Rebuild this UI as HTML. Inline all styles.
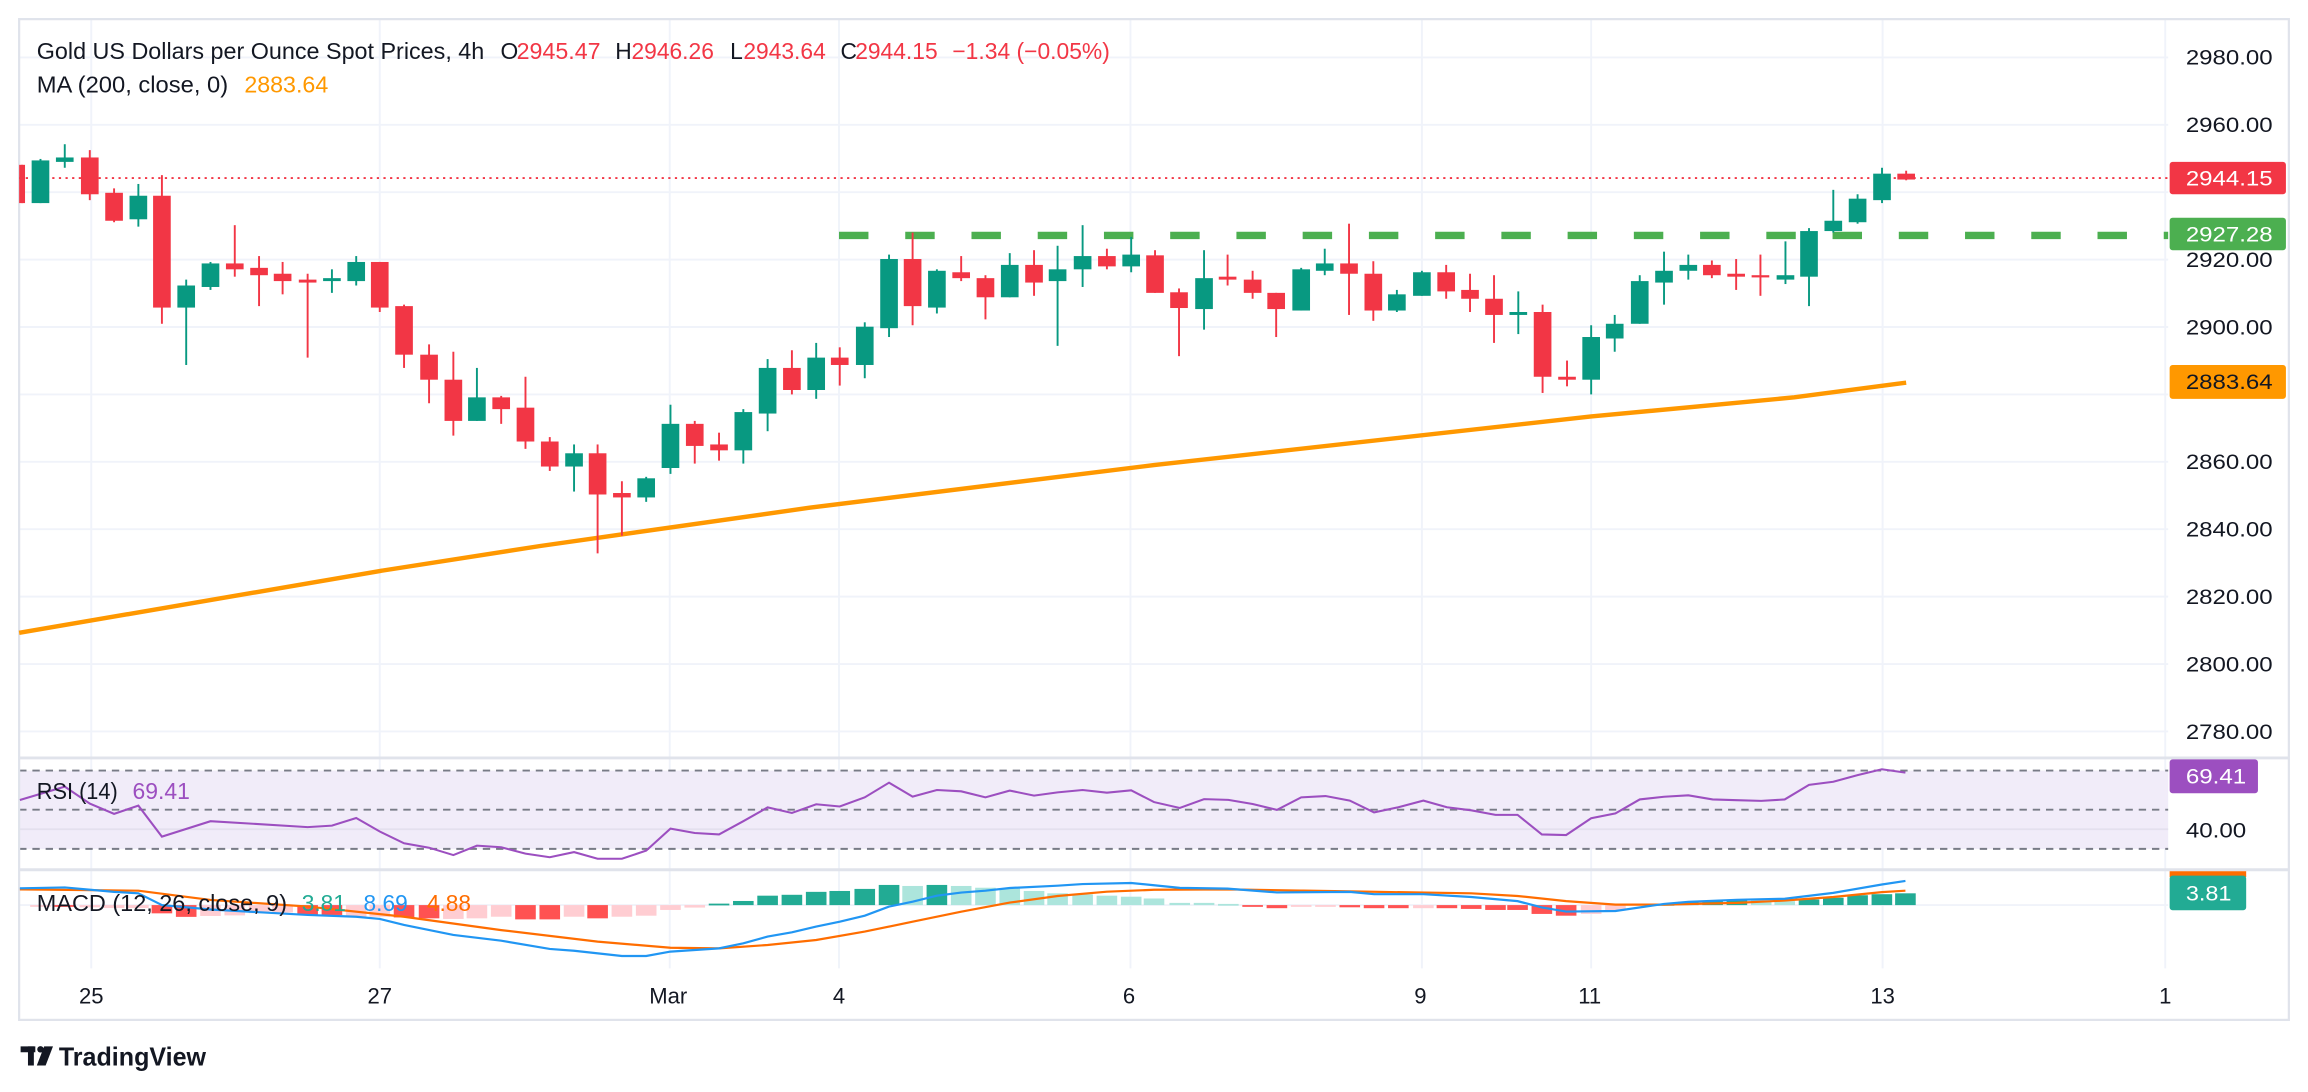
<!DOCTYPE html>
<html><head><meta charset="utf-8"><style>
html,body{margin:0;padding:0;background:#fff;}
svg{display:block;}
text{font-family:"Liberation Sans",sans-serif;}
</style></head><body>
<svg id="s" width="2308" height="1092" viewBox="0 0 1568 742" preserveAspectRatio="none" xmlns="http://www.w3.org/2000/svg">
<rect x="0" y="0" width="1568" height="742" fill="#fff"/>
<g id="grid" stroke="#f0f3fa" stroke-width="1.3"></g>
<!-- RSI background -->
<rect x="13" y="523.6" width="1460" height="53.2" fill="#f1ecf9"/>
<line x1="13" y1="563.5" x2="1473" y2="563.5" stroke="#e4e0ee" stroke-width="1.2"/>
<g stroke="#787b86" stroke-width="1.3" stroke-dasharray="5,4">
<line x1="13" y1="523.6" x2="1473" y2="523.6"/>
<line x1="13" y1="550.2" x2="1473" y2="550.2"/>
<line x1="13" y1="576.8" x2="1473" y2="576.8"/>
</g>
<!-- frame -->
<rect x="13" y="13" width="1542" height="680" fill="none" stroke="#e0e3eb" stroke-width="1.5"/>
<line x1="13" y1="515" x2="1555" y2="515" stroke="#e0e3eb" stroke-width="2"/>
<line x1="13" y1="591" x2="1555" y2="591" stroke="#e0e3eb" stroke-width="2"/>
<!-- MA -->
<polyline fill="none" stroke="#ff9800" stroke-width="3" points="13,430 258,388 367,371 550,345 784,316 1081,283 1219,270 1295,260"/>
<!-- resistance dashed -->
<line x1="570" y1="160" x2="1473" y2="160" stroke="#4caf50" stroke-width="5" stroke-dasharray="20,25"/>
<!-- last price dotted -->
<line x1="13" y1="121" x2="1473" y2="121" stroke="#f23645" stroke-width="1.3" stroke-dasharray="1.5,3"/>
<g id="candles"></g>
<g id="hist"></g>
<polyline fill="none" stroke="#9c4fc0" stroke-width="1.4" points="13.5,543.6 44,534.5 61,546 77.5,553 94,547.4 110,568.5 143,558 209,562 225.5,561 242,555.8 258,565 274.5,573 291.5,576 308,581 324,574.6 340.5,575.7 357,580 373.5,582.5 390,579 406,583.5 422.5,583.5 439,578 455.5,563 472,566 488.5,567 505,558 521.5,548.6 538,552.4 554.5,546.5 570.5,548 587.5,541.8 604,531.8 620,541.3 636.5,536.8 653,537.7 669.5,541.8 686,537.2 702.5,540.6 718.5,538.4 735.5,536.8 752,538.6 768.5,537 784,545 801.5,549 818,543 834.5,543.5 851,546.3 867.5,550.3 884,541.8 900.5,540.9 917,544 933.5,552 950,548.5 967,544 983,548.5 999.5,550.6 1016,553.7 1031,553.7 1047.5,567 1064,567.4 1081,556 1097.5,552.7 1114,543.2 1130.5,541.4 1147,540.4 1163.5,543.2 1180,543.7 1196.5,544.2 1212.5,543.2 1229,533.3 1245.5,531.2 1262,526.7 1278.5,522.7 1294.5,525"/>
<polyline fill="none" stroke="#ff6d00" stroke-width="1.5" points="13.5,604.3 94,605.2 143,611.5 209,616 274.5,622.9 340.5,632 406,639.8 455.5,644 488.5,644.4 521.5,642.1 554.5,638.7 587.5,633 620,626.3 653,619.5 686,613.3 718.5,608.8 752,605.9 784,604.6 834,604.3 917,605.7 999.5,607 1031,608.8 1064,612.3 1097.5,614.7 1130.5,614.7 1180,613.5 1212.5,611.9 1245.5,609.5 1278.5,606.2 1294.5,605.2"/>
<polyline fill="none" stroke="#2196f3" stroke-width="1.5" points="13.5,603.6 44,603 77.5,606 94,607 110,615 143,618 209,621.7 242,622.9 258,624.4 274.5,628.5 308,635.3 340.5,639.2 373.5,644.8 390,646 422.5,649.6 439,649.6 455.5,646.6 488.5,644.4 505,641 521.5,636.4 538,633.5 554.5,629.6 570.5,626.3 587.5,622.2 604,616 620,612.7 636.5,608.6 653,606.5 669.5,605.2 686,603.4 718.5,601.8 735.5,600.7 768.5,600 784,601.5 801.5,603.3 834,603.8 867.5,606.4 917,606 933.5,607.6 967,607.6 999.5,609.5 1031,612.3 1047.5,616.6 1064,619.4 1097.5,619 1130.5,614.2 1147,612.8 1180,611.4 1212.5,610.7 1245.5,606.7 1278.5,601 1294.5,598.6"/>
<!-- header -->
<g font-size="15.5">
<text x="25" y="40" fill="#131722" textLength="304" lengthAdjust="spacingAndGlyphs">Gold US Dollars per Ounce Spot Prices, 4h</text>
<text x="340" y="40" fill="#131722">O</text><text x="351" y="40" fill="#f23645" textLength="57" lengthAdjust="spacingAndGlyphs">2945.47</text>
<text x="418" y="40" fill="#131722">H</text><text x="429" y="40" fill="#f23645" textLength="56" lengthAdjust="spacingAndGlyphs">2946.26</text>
<text x="496" y="40" fill="#131722">L</text><text x="505" y="40" fill="#f23645" textLength="56" lengthAdjust="spacingAndGlyphs">2943.64</text>
<text x="571" y="40" fill="#131722">C</text><text x="581" y="40" fill="#f23645" textLength="56" lengthAdjust="spacingAndGlyphs">2944.15</text>
<text x="647" y="40" fill="#f23645" textLength="107" lengthAdjust="spacingAndGlyphs">−1.34 (−0.05%)</text>
<text x="25" y="63" fill="#131722" textLength="130" lengthAdjust="spacingAndGlyphs">MA (200, close, 0)</text>
<text x="166" y="63" fill="#ff9800" textLength="57" lengthAdjust="spacingAndGlyphs">2883.64</text>
<text x="25" y="543" fill="#131722" textLength="55" lengthAdjust="spacingAndGlyphs">RSI (14)</text>
<text x="90" y="543" fill="#9c4fc0" textLength="39" lengthAdjust="spacingAndGlyphs">69.41</text>
<text x="25" y="619" fill="#131722" textLength="170" lengthAdjust="spacingAndGlyphs">MACD (12, 26, close, 9)</text>
<text x="205" y="619" fill="#22ab94" textLength="30" lengthAdjust="spacingAndGlyphs">3.81</text>
<text x="247" y="619" fill="#2196f3" textLength="30" lengthAdjust="spacingAndGlyphs">8.69</text>
<text x="290" y="619" fill="#ff6d00" textLength="30" lengthAdjust="spacingAndGlyphs">4.88</text>
</g>
<!-- price axis -->
<g id="axis" font-size="14.5" fill="#131722"></g>
<!-- tags -->
<rect x="1474" y="110" width="79" height="22" rx="2" fill="#f23645"/>
<text x="1485" y="126" font-size="14.5" fill="#fff" textLength="59" lengthAdjust="spacingAndGlyphs">2944.15</text>
<rect x="1474" y="148" width="79" height="22" rx="2" fill="#4caf50"/>
<text x="1485" y="164" font-size="14.5" fill="#fff" textLength="59" lengthAdjust="spacingAndGlyphs">2927.28</text>
<rect x="1474" y="248" width="79" height="23" rx="2" fill="#ff9800"/>
<text x="1485" y="264.5" font-size="14.5" fill="#131722" textLength="59" lengthAdjust="spacingAndGlyphs">2883.64</text>
<rect x="1474" y="516" width="60" height="23" rx="2" fill="#9c4fc0"/>
<text x="1485" y="532.5" font-size="14.5" fill="#fff" textLength="41" lengthAdjust="spacingAndGlyphs">69.41</text>
<text x="1485" y="569" font-size="14.5" fill="#131722" textLength="41" lengthAdjust="spacingAndGlyphs">40.00</text>
<rect x="1474" y="592" width="52" height="4" fill="#ff6d00"/>
<rect x="1474" y="595" width="52" height="23.5" rx="2" fill="#22ab94"/>
<text x="1485" y="612" font-size="14.5" fill="#fff" textLength="31" lengthAdjust="spacingAndGlyphs">3.81</text>
<!-- time axis -->
<g font-size="15" fill="#131722" text-anchor="middle">
<text x="62" y="682">25</text><text x="258" y="682">27</text><text x="454" y="682">Mar</text>
<text x="570" y="682">4</text><text x="767" y="682">6</text><text x="965" y="682">9</text>
<text x="1080" y="682">11</text><text x="1279" y="682">13</text><text x="1471" y="682">1</text>
</g>
<!-- logo -->
<g fill="#131722">
<rect x="14" y="711" width="10" height="4"/><rect x="19" y="711" width="4" height="13"/>
<circle cx="27.5" cy="713" r="2.2"/><polygon points="30,711 36,711 31,724 25,724"/>
<text x="40" y="724" font-size="17.5" font-weight="bold" textLength="100" lengthAdjust="spacingAndGlyphs">TradingView</text>
</g>
<script>
(function(){
var NS="http://www.w3.org/2000/svg";
function el(p,t,a){var e=document.createElementNS(NS,t);for(var k in a)e.setAttribute(k,a[k]);p.appendChild(e);return e;}
var g=document.getElementById("grid");
[62,258,455,570,768,966,1081,1279,1471].forEach(function(x){el(g,"line",{x1:x,y1:13,x2:x,y2:658});});
var ax=document.getElementById("axis");
for(var p=2980;p>=2780;p-=20){var y=39+(2980-p)*2.29;el(g,"line",{x1:13,y1:y,x2:1473,y2:y});
 if(p!=2940&&p!=2880){var t=el(ax,"text",{x:1485,y:y+5,textLength:59,lengthAdjust:"spacingAndGlyphs"});t.textContent=p+".00";}}
el(g,"line",{x1:13,y1:615,x2:1473,y2:615});
var C=[[15,112,138,112,138,0],[27.5,109,138,108,138,1],[44,107,110,98,114,1],[61,107,132,102,136,0],[77.5,131,150,128,151,0],[94,133,149,125,154,1],[110,133,209,119,220,0],[126.5,194,209,190,248,1],[143,179,195,178,197,1],[159.5,179,183,153,188,0],[176,182,187,174,208,0],[192,186,191,178,200,0],[209,190,192,186,243,0],[225.5,189,191,183,199,1],[242,178,191,174,194,1],[258,178,209,178,212,0],[274.5,208,241,207,250,0],[291.5,241,258,234,274,0],[308,258,286,239,296,0],[324,270,286,250,286,1],[340.5,270,278,269,288,0],[357,277,300,256,305,0],[373.5,300,317,297,320,0],[390,308,317,302,334,1],[406,308,336,302,376,0],[422.5,335,338,327,364,0],[439,325,338,324,341,1],[455.5,288,318,275,322,1],[472,288,303,286,315,0],[488.5,302,306,294,313,0],[505,280,306,278,315,1],[521.5,250,281,244,293,1],[538,250,265,238,268,0],[554.5,243,265,233,271,1],[570.5,243,248,236,262,0],[587.5,222,248,219,257,1],[604,176,223,173,229,1],[620,176,208,158,221,0],[636.5,184,209,183,213,1],[653,185,189,174,191,0],[669.5,189,202,187,217,0],[686,180,202,172,202,1],[702.5,180,192,170,201,0],[718.5,183,191,167,235,1],[735.5,174,183,153,195,1],[752,174,181,169,183,0],[768.5,173,181,161,185,1],[784.7,173.5,199,170,199,0],[801,198.6,209.3,196,242,0],[818,189,210,170,224,1],[834,188,190,173,194,0],[851,190,199,184,203,0],[867,199,210,199,229,0],[884,183,211,182,211,1],[900,179,184,169,187,1],[916.5,179,186,152,214,0],[933,186,211,177.5,218,0],[949,200,211,197,212,1],[966,185,201,184,201,1],[982.5,185,198,180,203,0],[998.7,197,203,186,212,0],[1015,203,214,187,233,0],[1031.5,212,214,198,227,1],[1048,212,256,207,267,0],[1064.6,256,258,245,262.5,0],[1081,229,258,221,268,1],[1097,220,230,214,239,1],[1114,191,220,187,220,1],[1130.5,184,192,171,207,1],[1147,180,184,173,190,1],[1163,180,187,177,189,0],[1179.5,186,188,176,197,0],[1196,187,188.5,173,201,0],[1213,187,190,164,193,1],[1229,157,188,155,208,1],[1245.5,150,157,129,158,1],[1262,135,151,132,152,1],[1278.6,118,136,114,138,1],[1295,118,122,116,122.5,0]];
var cg=document.getElementById("candles");
C.forEach(function(c){var col=c[5]?"#089981":"#f23645";
 el(cg,"rect",{x:c[0]-0.65,y:c[3],width:1.3,height:c[4]-c[3],fill:col});
 var w=(c[0]<20)?4:12, x0=(c[0]<20)?13:c[0]-6;
 el(cg,"rect",{x:x0,y:c[1],width:w,height:Math.max(1.5,c[2]-c[1]),fill:col});});
// histogram: [x, y, type] type:0 red,1 pink,2 dgreen,3 lgreen
var H=[[27.5,616,1],[44,616,0],[61,616.5,1],[77.5,617,1],[94,617,1],[110,620.6,0],[126.5,623,0],[143,622.4,1],[159.5,622,1],[176,620.5,1],[192,620,1],[209,621.7,0],[225.5,621.7,0],[242,622.9,1],[258,622.9,1],[274.5,623.4,0],[291.5,624,0],[308,624.4,1],[324,624,1],[340.5,622.9,1],[357,624.7,0],[373.5,624.7,0],[390,622.9,1],[406,624,0],[422.5,622.9,1],[439,622.2,1],[455.5,618.3,1],[472,616.7,1],[488.5,614,2],[505,612.2,2],[521.5,608.6,2],[538,608,2],[554.5,606,2],[570.5,605.4,2],[587.5,604,2],[604,601.3,2],[620,602,3],[636.5,601.3,2],[653,602,3],[669.5,603.2,3],[686,603.8,3],[702.5,605.4,3],[718.5,607,3],[735.5,607.7,3],[752,608.6,3],[768.5,609.3,3],[784,610.5,3],[801.5,613.5,3],[818,613.5,3],[834.5,614.2,3],[851,615.7,0],[867.5,617.1,0],[884,616,1],[900.5,615.6,1],[917,616.5,0],[933.5,617.1,0],[950,617.1,0],[967,617.1,1],[983,617.1,0],[999.5,617.6,0],[1016,618.3,0],[1031,618.3,0],[1047.5,621,0],[1064,622.2,0],[1081,621,1],[1097.5,618.7,1],[1114,614,3],[1130.5,614.2,2],[1147,612.8,2],[1163.5,612.3,2],[1180,611.9,2],[1196.5,611.9,3],[1212.5,612.3,3],[1229,611.2,2],[1245.5,610,2],[1262,608.3,2],[1278.5,607.6,2],[1294.5,607,2]];
var cols=["#ff5252","#ffcdd2","#22ab94","#ace5dc"];
var hg=document.getElementById("hist");
H.forEach(function(h){var y0=615,t=Math.min(h[1],y0),b=Math.max(h[1],y0);if(b-t<1.2){b=t+1.2;}
 el(hg,"rect",{x:h[0]-7,y:t,width:14,height:b-t,fill:cols[h[2]]});});
})();
</script>
</svg>
</body></html>
